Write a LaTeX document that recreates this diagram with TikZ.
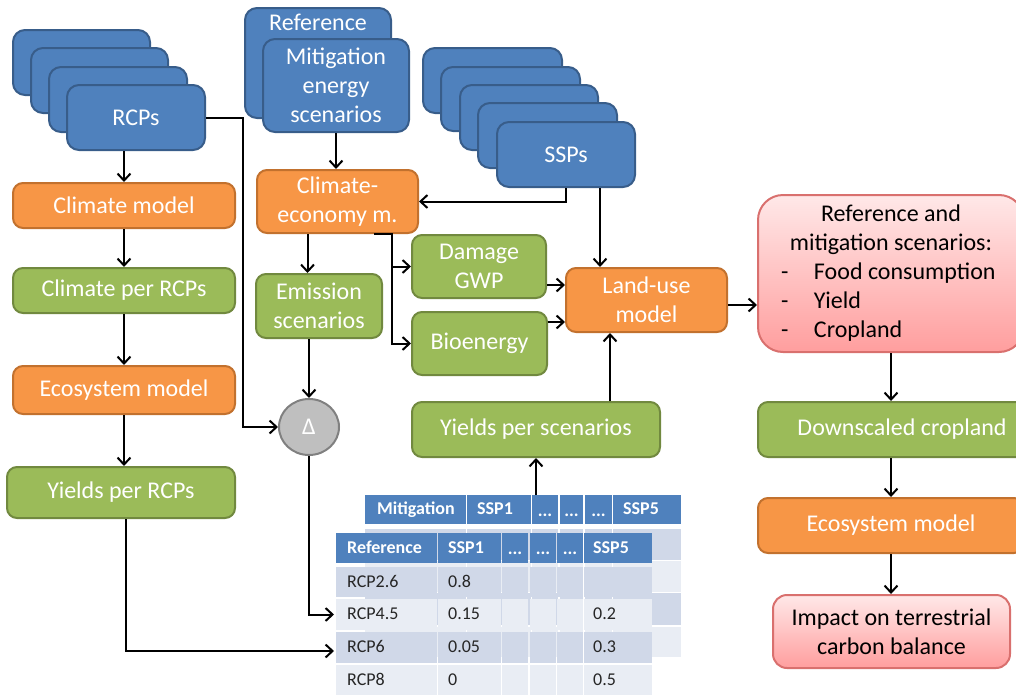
\documentclass[tikz,border=0pt]{standalone}
\usepackage{fontspec}
\setmainfont{Carlito}
\usetikzlibrary{arrows.meta,calc,shapes.geometric}
\definecolor{bluef}{HTML}{4F81BD}
\definecolor{blued}{HTML}{385D8A}
\definecolor{orf}{HTML}{F79646}
\definecolor{ord}{HTML}{C2712E}
\definecolor{grf}{HTML}{9BBB59}
\definecolor{grd}{HTML}{71893F}
\definecolor{pkt}{HTML}{FFE8E8}
\definecolor{pkb}{HTML}{FF9E9E}
\definecolor{pkd}{HTML}{D9706E}
\definecolor{gyf}{HTML}{BFBFBF}
\definecolor{gyd}{HTML}{808080}
\definecolor{tdark}{HTML}{D0D8E8}
\definecolor{tlight}{HTML}{E9EDF4}
\tikzset{
  base/.style={line width=2, inner sep=0, align=center, font=\fontsize{24}{29}\selectfont, text=white},
  bluebox/.style={base, draw=blued, fill=bluef, rounded corners=12},
  orbox/.style={base, draw=ord, fill=orf, rounded corners=10},
  grbox/.style={base, draw=grd, fill=grf, rounded corners=10},
  pkbox/.style={base, draw=pkd, top color=pkt, bottom color=pkb, text=black},
  arr/.style={line width=2, -{Straight Barb[length=7,width=13,line width=2]}},
  hdr/.style={inner sep=0, text=white, font=\fontsize{18}{20}\selectfont\bfseries, text height=12, text depth=2},
  cell/.style={inner sep=0, text=black!85, font=\fontsize{18}{20}\selectfont, text height=12, text depth=2},
}
\newcommand\bx[6]{\node[#1, minimum width={#4-#2}, minimum height={#5-#3}] (#6) at ({(#2+#4)/2},{(#3+#5)/2})}
\newcommand\itm[1]{\makebox[220pt][l]{\makebox[33pt][l]{-}#1}}
\begin{document}
\begin{tikzpicture}[x=1pt,y=-1pt]
\useasboundingbox (0,0) rectangle (1016,696);
\clip (0,0) rectangle (1016,696);
% RCP stack
\bx{bluebox}{13}{30}{150}{95}{r1} {};
\bx{bluebox}{31}{48}{168}{113}{r2} {};
\bx{bluebox}{49}{67}{187}{132}{r3} {};
\bx{bluebox}{67}{85}{205}{150}{rcps} {RCPs};
% reference / mitigation
\bx{bluebox}{245}{8}{391}{118}{refb} {};
\node[base] (reftxt) at (318,22) {Reference};
\bx{bluebox}{263}{39}{409}{132}{mit} {Mitigation\\energy\\scenarios};
% SSP stack
\bx{bluebox}{423}{48}{562}{113}{s1} {};
\bx{bluebox}{441}{67}{580}{131}{s2} {};
\bx{bluebox}{460}{85}{598}{150}{s3} {};
\bx{bluebox}{478}{103}{617}{168}{s4} {};
\bx{bluebox}{497}{122}{635}{187}{ssps} {SSPs};
% left column
\bx{orbox}{13}{183}{235}{228}{cm} {Climate model};
\bx{grbox}{13}{268}{235}{313}{cpr} {Climate per RCPs};
\bx{orbox}{13}{366}{235}{414}{ecoL} {Ecosystem model};
\bx{grbox}{7}{467}{235}{518}{ypr} {Yields per RCPs};
% middle
\bx{orbox}{257}{170}{418}{233}{ce} {Climate-\\economy m.};
\bx{grbox}{256}{274}{382}{338}{em} {Emission\\scenarios};
\bx{grbox}{412}{235}{546}{298}{dam} {Damage\\GWP};
\bx{grbox}{412}{312}{547}{375}{bio} {Bioenergy};
\bx{orbox}{566}{268}{727}{332}{lu} {Land-use\\model};
\bx{grbox}{412}{402}{660}{457}{ysc} {Yields per scenarios};
\node[ellipse, draw=gyd, fill=gyf, line width=2, minimum width=60, minimum height=56, inner sep=0, text=white, font=\fontsize{24}{26}\selectfont] (delta) at (309,427) {Δ};
% right column
\bx{pkbox, rounded corners=25}{758}{195}{1024}{352}{pink} {Reference and\\mitigation scenarios:\\\itm{Food consumption}\\\itm{Yield}\\\itm{Cropland}};
\bx{grbox}{758}{402}{1046}{457}{ds} {Downscaled cropland};
\bx{orbox}{758}{498}{1024}{553}{ecoR} {Ecosystem model};
\bx{pkbox, rounded corners=14}{773}{595}{1010}{668}{imp} {Impact on terrestrial\\carbon balance};
% back table (Mitigation)
\foreach \a/\b in {365/466,467/531,532/558,560/583,585/612,613/681} {
  \fill[bluef] (\a,495) rectangle (\b,524);
  \foreach \u/\v/\c in {529/560/tdark,561/592/tlight,593/625/tdark,627/657/tlight} {
    \fill[\c] (\a,\u) rectangle (\b,\v);
  }
}
% front table (Reference)
\foreach \a/\b in {336/437,438/501,502/528,530/556,557/583,584/652} {
  \fill[bluef] (\a,533) rectangle (\b,563);
  \foreach \u/\v/\c in {567/597/tdark,599/630/tlight,632/663/tdark,665/695/tlight} {
    \fill[\c] (\a,\u) rectangle (\b,\v);
  }
}
\node[hdr, anchor=west] (mh1) at (377,509.5) {Mitigation};
\node[hdr, anchor=west] (mh2) at (477,509.5) {SSP1};
\node[hdr] (mh3) at (545,511) {...};
\node[hdr] (mh4) at (571.5,511) {...};
\node[hdr] (mh5) at (598.5,511) {...};
\node[hdr, anchor=west] (mh6) at (623,509.5) {SSP5};
\node[hdr, anchor=west] (fh1) at (347,548) {Reference};
\node[hdr, anchor=west] (fh2) at (448,548) {SSP1};
\node[hdr] (fh3) at (515,549.5) {...};
\node[hdr] (fh4) at (543,549.5) {...};
\node[hdr] (fh5) at (570,549.5) {...};
\node[hdr, anchor=west] (fh6) at (593,548) {SSP5};
\foreach \lab/\v/\w/\yy [count=\i] in {RCP2.6/0.8//582, RCP4.5/0.15/0.2/614.5, RCP6/0.05/0.3/647.5, RCP8/0/0.5/680} {
  \node[cell, anchor=west] (rl\i) at (347,\yy) {\lab};
  \node[cell, anchor=west] (rv\i) at (448,\yy) {\v};
  \node[cell, anchor=west] (rw\i) at (593,\yy) {\w};
}
% connectors
\draw[arr] (cm.north |- rcps.south) -- (cm.north);
\draw[arr] (cm.south) -- (cpr.north);
\draw[arr] (cpr.south) -- (ecoL.north);
\draw[arr] (ecoL.south) -- (ecoL.south |- ypr.north);
\draw[arr] (rcps.east) -- ++(37,0) |- (delta.west);
\draw[arr] (mit.south) -- (mit.south |- ce.north);
\draw[arr] (ssps.south) |- (ce.east);
\coordinate (sspb) at ($(ssps.south)+(34,0)$);
\draw[arr] (sspb) -- (sspb |- lu.north);
\coordinate (ceb1) at ($(ce.south)+(-30,0)$);
\draw[arr] (ceb1) -- (ceb1 |- em.north);
\draw[arr] (delta.north |- em.south) -- (delta.north);
\coordinate (ceb2) at ($(ce.south east)+(-45,0)$);
\coordinate (jn) at ($(ce.south east)+(-27,0)$);
\draw[arr] (ceb2) -- (jn) |- (bio.west);
\draw[arr] (jn |- dam.west) -- (dam.west);
\coordinate (dame) at ($(dam.south east)+(0,-14)$);
\draw[arr] (dame) -- (dame -| lu.west);
\coordinate (bioe) at ($(bio.north east)+(0,11)$);
\draw[arr] (bioe) -- (bioe -| lu.west);
\coordinate (yscn) at ($(ysc.north)+(74,0)$);
\draw[arr] (yscn) -- (yscn |- lu.south);
\coordinate (mtop) at (536,495);
\draw[arr] (mtop) -- (ysc.south);
\coordinate (lue) at ($(lu.east)+(0,5)$);
\draw[arr] (lue) -- (lue -| pink.west);
\draw[arr] (pink.south) -- (pink.south |- ds.north);
\draw[arr] (pink.south |- ds.south) -- (pink.south |- ecoR.north);
\draw[arr] (pink.south |- ecoR.south) -- (pink.south |- imp.north);
\coordinate (t45) at (334,614.5);
\draw[arr] (delta.south) |- (t45);
\coordinate (t6) at (334,651);
\coordinate (yprb) at ($(ypr.south)+(5,0)$);
\draw[arr] (yprb) |- (t6);
\end{tikzpicture}
\end{document}
